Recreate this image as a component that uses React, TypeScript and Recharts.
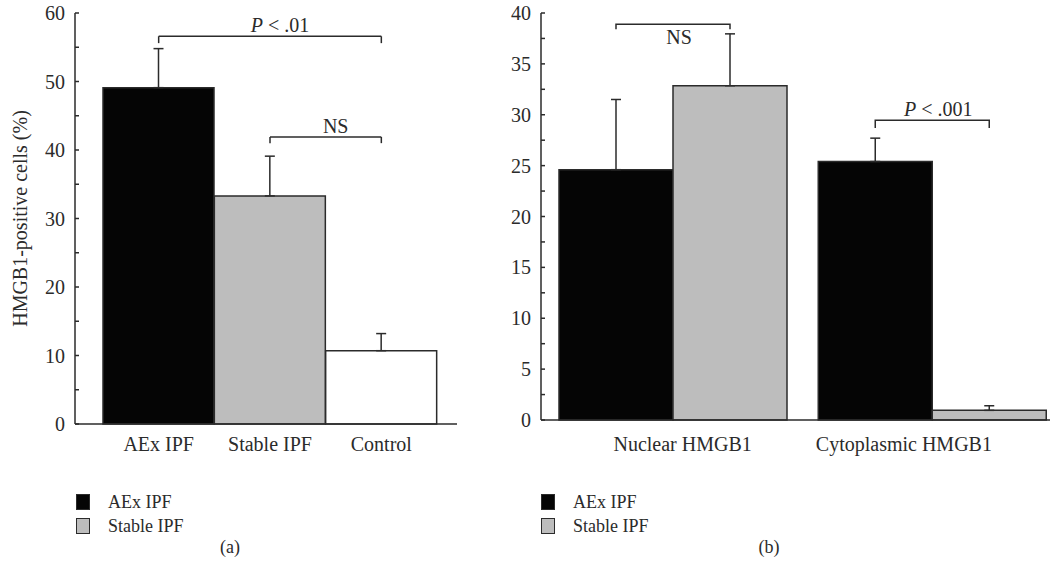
import React from "react";
import {
  BarChart,
  Bar,
  XAxis,
  YAxis,
  Cell,
  ErrorBar,
  ReferenceLine,
  Legend,
  Rectangle,
} from "recharts";

const FONT = '"Liberation Serif", "DejaVu Serif", serif';
const INK = "#2b2b2b";

// panel (a)
const groupsA = ["AEx IPF", "Stable IPF", "Control"];
const valuesA = [49.1, 33.3, 10.7];
const errorsA = [5.7, 5.8, 2.5];
const fillsA = ["#050505", "#bdbdbd", "#ffffff"];
const ticksA = [0, 5, 10, 15, 20, 25, 30, 35, 40, 45, 50, 55, 60];

// panel (b)
const groupsB = ["Nuclear HMGB1", "Cytoplasmic HMGB1"];
const aexB = [24.6, 25.4];
const aexErrB = [6.9, 2.3];
const stableB = [32.85, 0.95];
const stableErrB = [5.1, 0.45];
const ticksB = [0, 2.5, 5, 7.5, 10, 12.5, 15, 17.5, 20, 22.5, 25, 27.5, 30, 32.5, 35, 37.5, 40];

const legendNames = ["AEx IPF", "Stable IPF"];
const legendFills = ["#050505", "#bdbdbd"];

// significance brackets
const bracketsA = [
  { from: "AEx IPF", to: "Control", top: 56.6, drop: 55.6, italic: "P", text: " < .01" },
  { from: "Stable IPF", to: "Control", top: 41.9, drop: 41.0, italic: "", text: "NS" },
];
const bracketsB = [
  { group: "Nuclear HMGB1", top: 38.9, drop: 38.4, italic: "", text: "NS", below: true },
  { group: "Cytoplasmic HMGB1", top: 29.45, drop: 28.7, italic: "P", text: " < .001", below: false },
];

// the category labels of panel (b) do not sit exactly under the groups
const labelShiftB = [10, -28];

const dataA = groupsA.map((name, i) => ({
  name,
  value: valuesA[i],
  err: [0, errorsA[i]],
}));

const dataB = groupsB.map((name, i) => ({
  name,
  aex: aexB[i],
  aexErr: [0, aexErrB[i]],
  stable: stableB[i],
  stableErr: [0, stableErrB[i]],
}));

const axisLine = { stroke: INK, strokeWidth: 1.5 };
const tickFont = { fontFamily: FONT, fontSize: 20, fill: INK, style: { fontFamily: FONT } };

const YLabel = (props: any) => {
  const vb = props.viewBox || {};
  const cx = (vb.x ?? 0) + 20;
  const cy = (vb.y ?? 0) + (vb.height ?? 0) / 2;
  return (
    <text
      x={cx}
      y={cy}
      transform={`rotate(-90 ${cx} ${cy})`}
      textAnchor="middle"
      dominantBaseline="central"
      style={{ fontFamily: FONT }}
      fontSize={20}
      fill={INK}
    >
      HMGB1-positive cells (%)
    </text>
  );
};

const ShiftTick = (props: any) => {
  const { x, y, payload } = props;
  const idx = props.index ?? payload?.index ?? 0;
  return (
    <text
      x={x + (labelShiftB[idx] ?? 0)}
      y={y}
      dy="0.71em"
      textAnchor="middle"
      style={{ fontFamily: FONT }}
      fontSize={20}
      fill={INK}
    >
      {payload.value}
    </text>
  );
};

const SigText = ({ x, y, italic, text }: any) => (
  <text x={x} y={y} textAnchor="middle" style={{ fontFamily: FONT }} fontSize={20} fill={INK}>
    {italic && <tspan fontStyle="italic">{italic}</tspan>}
    <tspan>{text}</tspan>
  </text>
);

const BracketLabel = (props: any) => {
  const vb = props.viewBox || {};
  return (
    <SigText
      x={vb.x + vb.width / 2 + 10}
      y={vb.y - 4}
      italic={props.italic}
      text={props.text}
    />
  );
};

// stable bars of panel (b) also carry the bracket to the neighbouring AEx bar
const StableShape = (props: any) => {
  const { x, y, width, height, payload, fill } = props;
  const b = bracketsB.find((item) => item.group === payload.name);
  let bracket = null;
  if (b && payload.stable > 0) {
    const base = y + height;
    const unit = height / payload.stable;
    const yTop = base - b.top * unit;
    const yDrop = base - b.drop * unit;
    const x1 = x - width / 2;
    const x2 = x + width / 2;
    bracket = (
      <g>
        <path
          d={`M${x1},${yDrop}V${yTop}H${x2}V${yDrop}`}
          fill="none"
          stroke={INK}
          strokeWidth={1.5}
        />
        <SigText
          x={(x1 + x2) / 2 + 6}
          y={b.below ? yTop + 20 : yTop - 4}
          italic={b.italic}
          text={b.text}
        />
      </g>
    );
  }
  return (
    <g>
      <Rectangle x={x} y={y} width={width} height={height} fill={fill} stroke={INK} strokeWidth={1.5} />
      {bracket}
    </g>
  );
};

const PanelLegend = () => (
  <div style={{ fontFamily: FONT, fontSize: 18, color: INK }}>
    {legendNames.map((n, i) => (
      <div key={n} style={{ display: "flex", alignItems: "center", height: 24 }}>
        <span
          style={{
            display: "inline-block",
            width: 12,
            height: 14,
            background: legendFills[i],
            border: `1.5px solid ${INK}`,
            marginRight: 18,
          }}
        />
        <span>{n}</span>
      </div>
    ))}
  </div>
);

const legendStyle = (left: number) => ({
  position: "absolute" as const,
  left,
  top: 490,
  width: 200,
  margin: 0,
});

const PanelTag = ({ left, text }: { left: number; text: string }) => (
  <div
    style={{
      position: "absolute",
      left: left - 20,
      top: 537,
      width: 40,
      textAlign: "center",
      fontFamily: FONT,
      fontSize: 18,
      color: INK,
    }}
  >
    {text}
  </div>
);

const App: React.FC = () => {
  return (
    <div
      style={{
        position: "absolute",
        left: 0,
        top: 0,
        width: 1050,
        height: 583,
        overflow: "hidden",
        background: "#fff",
        fontFamily: FONT,
      }}
    >
      <div style={{ position: "absolute", left: 0, top: 0 }}>
        <BarChart
          width={467}
          height={474}
          data={dataA}
          margin={{ top: 13, right: 10, bottom: 0, left: 0 }}
          barCategoryGap={0}
          style={{ fontFamily: FONT }}
        >
          <XAxis
            dataKey="name"
            padding={{ left: 28, right: 20 }}
            tickLine={false}
            tickSize={0}
            tickMargin={13}
            axisLine={axisLine}
            tick={tickFont}
            height={50}
            interval={0}
          />
          <XAxis
            xAxisId="top"
            dataKey="name"
            orientation="top"
            padding={{ left: 28, right: 20 }}
            height={0}
            tick={false}
            tickLine={false}
            axisLine={axisLine}
          />
          <YAxis
            domain={[0, 60]}
            ticks={ticksA}
            interval={0}
            width={75}
            tickSize={-4}
            tickMargin={14}
            tickFormatter={(v: number) => (v % 10 === 0 ? String(v) : "")}
            tick={tickFont}
            tickLine={axisLine}
            axisLine={axisLine}
            label={<YLabel />}
          />
          <YAxis
            yAxisId="r"
            orientation="right"
            domain={[0, 60]}
            ticks={ticksA}
            interval={0}
            width={0}
            tickSize={-4}
            tickFormatter={() => ""}
            tickLine={axisLine}
            axisLine={axisLine}
          />
          <Bar dataKey="value" isAnimationActive={false} stroke={INK} strokeWidth={1.5}>
            {dataA.map((d, i) => (
              <Cell key={d.name} fill={fillsA[i]} />
            ))}
            <ErrorBar dataKey="err" width={5} stroke={INK} strokeWidth={1.5} />
          </Bar>
          {bracketsA.map((b) => (
            <React.Fragment key={b.text}>
              <ReferenceLine
                segment={[
                  { x: b.from, y: b.top },
                  { x: b.to, y: b.top },
                ]}
                stroke={INK}
                strokeWidth={1.5}
                label={<BracketLabel italic={b.italic} text={b.text} />}
              />
              <ReferenceLine
                segment={[
                  { x: b.from, y: b.top },
                  { x: b.from, y: b.drop },
                ]}
                stroke={INK}
                strokeWidth={1.5}
              />
              <ReferenceLine
                segment={[
                  { x: b.to, y: b.top },
                  { x: b.to, y: b.drop },
                ]}
                stroke={INK}
                strokeWidth={1.5}
              />
            </React.Fragment>
          ))}
          <Legend
            content={<PanelLegend />}
            layout="horizontal"
            verticalAlign="middle"
            align="center"
            wrapperStyle={legendStyle(76)}
          />
        </BarChart>
      </div>

      <div style={{ position: "absolute", left: 466, top: 0 }}>
        <BarChart
          width={597}
          height={470}
          data={dataB}
          margin={{ top: 13, right: 0, bottom: 0, left: 0 }}
          barCategoryGap={16}
          barGap={0}
          style={{ fontFamily: FONT }}
        >
          <XAxis
            dataKey="name"
            padding={{ left: 2, right: 1.5 }}
            tickLine={false}
            tickSize={0}
            tickMargin={17}
            axisLine={axisLine}
            tick={<ShiftTick />}
            height={50}
            interval={0}
          />
          <XAxis
            xAxisId="top"
            dataKey="name"
            orientation="top"
            padding={{ left: 2, right: 1.5 }}
            height={0}
            tick={false}
            tickLine={false}
            axisLine={axisLine}
          />
          <YAxis
            domain={[0, 40]}
            ticks={ticksB}
            interval={0}
            width={75}
            tickSize={-4}
            tickMargin={14}
            tickFormatter={(v: number) => (v % 5 === 0 ? String(v) : "")}
            tick={tickFont}
            tickLine={axisLine}
            axisLine={axisLine}
          />
          <YAxis
            yAxisId="r"
            orientation="right"
            domain={[0, 40]}
            ticks={ticksB}
            interval={0}
            width={0}
            tickSize={-14}
            tickFormatter={() => ""}
            tickLine={axisLine}
            axisLine={axisLine}
          />
          <Bar dataKey="aex" name="AEx IPF" fill="#050505" stroke={INK} strokeWidth={1.5} isAnimationActive={false}>
            <ErrorBar dataKey="aexErr" width={5} stroke={INK} strokeWidth={1.5} />
          </Bar>
          <Bar
            dataKey="stable"
            name="Stable IPF"
            fill="#bdbdbd"
            stroke={INK}
            strokeWidth={1.5}
            shape={<StableShape />}
            isAnimationActive={false}
          >
            <ErrorBar dataKey="stableErr" width={5} stroke={INK} strokeWidth={1.5} />
          </Bar>
          <Legend
            content={<PanelLegend />}
            layout="horizontal"
            verticalAlign="middle"
            align="center"
            wrapperStyle={legendStyle(75)}
          />
        </BarChart>
      </div>

      <PanelTag left={230} text="(a)" />
      <PanelTag left={769} text="(b)" />
    </div>
  );
};

export default App;
